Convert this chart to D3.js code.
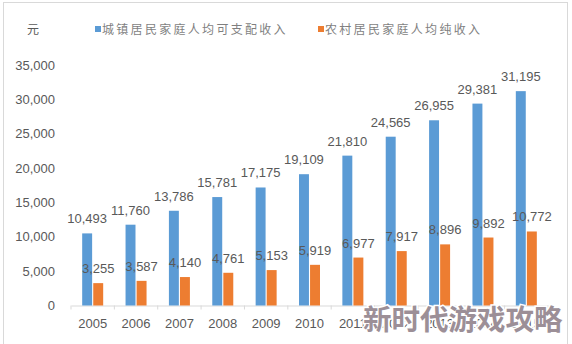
<!DOCTYPE html>
<html><head><meta charset="utf-8">
<script src="https://cdn.jsdelivr.net/npm/d3@7"></script>
<style>
html,body{margin:0;padding:0;background:#fff;}
svg{display:block;}
</style></head>
<body>
<svg id="chart" width="572" height="344"></svg>
<script>
const years = ["2005","2006","2007","2008","2009","2010","2011","2012","2013","2014","2015"];
const urban = [10493,11760,13786,15781,17175,19109,21810,24565,26955,29381,31195];
const rural = [3255,3587,4140,4761,5153,5919,6977,7917,8896,9892,10772];
const seriesNames = ["城镇居民家庭人均可支配收入","农村居民家庭人均纯收入"];
const seriesColors = ["#5B9BD5","#ED7D31"];
const yTicks = [0,5000,10000,15000,20000,25000,30000,35000];
const unitLabel = "元";
const watermark = "新时代游戏攻略";

const svg = d3.select("#chart");
const font = "'Liberation Sans', Arial, sans-serif";
const cjk = "'Noto Sans CJK SC', sans-serif";

// frame
svg.append("rect").attr("x",3.5).attr("y",2.5).attr("width",564).attr("height",360)
  .attr("fill","none").attr("stroke","#d9d9d9").attr("stroke-width",1);

const x = d3.scaleBand().domain(years).range([71,548]).paddingInner(0).paddingOuter(0);
const bw = x.bandwidth();
const xs = d3.scaleBand().domain([0,1]).range([bw/2-10.5, bw/2+10.5]).paddingInner(0.1);
const y = d3.scaleLinear().domain([0,35000]).range([305.5,65]);

// y axis
const yAxis = svg.append("g").attr("transform","translate(58,0)")
  .call(d3.axisLeft(y).tickValues(yTicks).tickFormat(d3.format(",")).tickSize(0).tickPadding(3));
yAxis.select(".domain").remove();
yAxis.selectAll("text").attr("fill","#595959").style("font-family",font).style("font-size","13px");

// x axis
const xAxis = svg.append("g").attr("transform","translate(0,305.5)")
  .call(d3.axisBottom(x).tickSize(0).tickPadding(13));
xAxis.select(".domain").attr("stroke","#d9d9d9");
xAxis.selectAll("text").attr("fill","#595959").style("font-family",font).style("font-size","13px");
const bounds = years.map(d=>x(d)).concat([x(years[years.length-1])+bw]);
xAxis.selectAll("line.bnd").data(bounds).enter().append("line").attr("class","bnd")
  .attr("x1",d=>d).attr("x2",d=>d).attr("y1",0).attr("y2",4).attr("stroke","#d9d9d9");

const data = [urban, rural];
data.forEach((vals, si) => {
  svg.append("g").selectAll("rect").data(vals).enter().append("rect")
    .attr("x",(d,i)=>x(years[i])+xs(si))
    .attr("width",xs.bandwidth())
    .attr("y",d=>y(d))
    .attr("height",d=>y(0)-y(d))
    .attr("fill",seriesColors[si]);
  svg.append("g").selectAll("text").data(vals).enter().append("text")
    .attr("x",(d,i)=>x(years[i])+xs(si)+xs.bandwidth()/2)
    .attr("y",d=>y(d)-10)
    .attr("text-anchor","middle")
    .attr("fill","#595959")
    .style("font-family",font).style("font-size","13px")
    .text(d=>d3.format(",")(d));
});

// unit label
svg.append("text").attr("x",27).attr("y",34).attr("fill","#595959")
  .style("font-family",cjk).style("font-size","12px").text(unitLabel);

// legend
const legendX = [95,318];
seriesNames.forEach((n,i)=>{
  svg.append("rect").attr("x",legendX[i]).attr("y",26).attr("width",6).attr("height",6).attr("fill",seriesColors[i]);
  svg.append("text").attr("x",legendX[i]+7).attr("y",34).attr("fill","#7f7f7f")
    .style("font-family",cjk).style("font-size","12px").style("letter-spacing","2.3px").text(n);
});

// watermark
svg.append("text").attr("x",363).attr("y",330)
  .attr("fill","#9c8f97").attr("stroke","#ffffff").attr("stroke-width",3).attr("paint-order","stroke")
  .style("font-family",cjk).style("font-weight","bold").style("font-size","28.5px").text(watermark);
</script>
</body></html>
